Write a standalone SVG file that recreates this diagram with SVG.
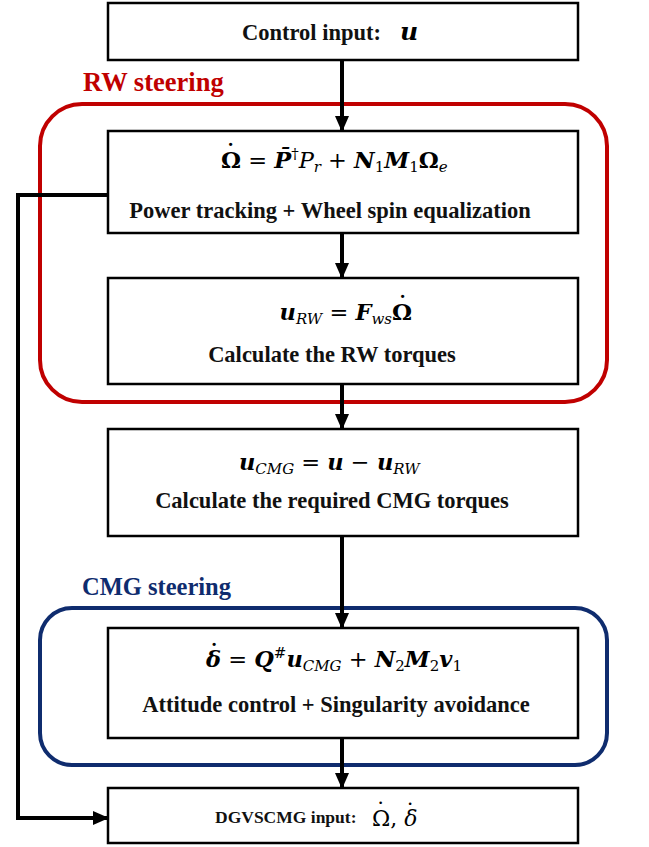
<svg xmlns="http://www.w3.org/2000/svg" width="649" height="847" viewBox="0 0 649 847">
<defs>
<marker id="ah" viewBox="0 0 8 7" refX="7.5" refY="3.5" markerWidth="4" markerHeight="3.5" markerUnits="strokeWidth" orient="auto">
<path d="M0,0 L8,3.5 L0,7 z" fill="#000"/>
</marker>
<style>
.box{fill:#fff;stroke:#000;stroke-width:2.5}
.lbl{font-family:"Liberation Serif","Times New Roman",serif;font-weight:bold;font-size:22.5px;fill:#111;text-anchor:middle}
.eq{font-family:"DejaVu Serif",serif;font-size:22.5px;fill:#000}
.dot{font-family:"DejaVu Serif",serif;font-size:22.5px;font-weight:bold;fill:#000;text-anchor:middle}
.bi{font-weight:bold;font-style:italic}
.b{font-weight:bold}
.i{font-style:italic}
.sub{font-size:15px}
.conn{fill:none;stroke:#000;stroke-width:4}
.grp{fill:none;stroke-width:4}
.gt{font-family:"Liberation Serif","Times New Roman",serif;font-weight:bold}
</style>
</defs>
<rect x="0" y="0" width="649" height="847" fill="#fff"/>

<g id="rw-group">
<rect class="grp" x="40" y="104" width="567" height="298" rx="42" stroke="#C00000"/>
<text class="gt" x="83" y="91" font-size="26.5" fill="#C00000">RW steering</text>
</g>
<g id="cmg-group">
<rect class="grp" x="40" y="608" width="567" height="157" rx="32" stroke="#0F2C6E"/>
<text class="gt" x="82" y="595" font-size="24.5" fill="#0F2C6E">CMG steering</text>
</g>

<g id="connectors">
<line class="conn" x1="342" y1="60" x2="342" y2="131" marker-end="url(#ah)"/>
<line class="conn" x1="342" y1="233" x2="342" y2="278" marker-end="url(#ah)"/>
<line class="conn" x1="342" y1="384" x2="342" y2="429" marker-end="url(#ah)"/>
<line class="conn" x1="342" y1="536" x2="342" y2="628" marker-end="url(#ah)"/>
<line class="conn" x1="342" y1="738" x2="342" y2="788" marker-end="url(#ah)"/>
<polyline class="conn" points="108,195 18,195 18,818 108,818" marker-end="url(#ah)"/>
</g>

<g id="n-control">
<rect class="box" x="108" y="3" width="470" height="57"/>
<text class="lbl" x="242" y="40" style="text-anchor:start">Control input:</text>
<text x="400" y="40" font-family="DejaVu Serif,serif" font-weight="bold" font-style="italic" font-size="25">u</text>
</g>

<g id="n-power">
<rect class="box" x="108" y="131" width="470" height="102"/>
<text class="eq" x="221" y="168"><tspan class="b">Ω</tspan> = <tspan class="bi">P̄</tspan><tspan class="sub" dy="-9">†</tspan><tspan class="i" dy="9">P</tspan><tspan class="sub i" dy="4">r</tspan><tspan dy="-4"> + </tspan><tspan class="bi">N</tspan><tspan class="sub" dy="4">1</tspan><tspan class="bi" dy="-4">M</tspan><tspan class="sub" dy="4">1</tspan><tspan class="b" dy="-4">Ω</tspan><tspan class="sub i" dy="4">e</tspan></text>
<text class="dot" x="230.5" y="161">˙</text>
<text class="lbl" x="330" y="218">Power tracking + Wheel spin equalization</text>
</g>

<g id="n-rwtorque">
<rect class="box" x="108" y="278" width="470" height="106"/>
<text class="eq" x="412" y="320" text-anchor="end"><tspan class="bi">u</tspan><tspan class="sub i" dy="4">RW</tspan><tspan dy="-4"> = </tspan><tspan class="bi">F</tspan><tspan class="sub i" dy="4">ws</tspan><tspan class="b" dy="-4">Ω</tspan></text>
<text class="dot" x="402.5" y="313">˙</text>
<text class="lbl" x="332" y="362">Calculate the RW torques</text>
</g>

<g id="n-cmgtorque">
<rect class="box" x="108" y="429" width="470" height="107"/>
<text class="eq" x="239" y="470"><tspan class="bi">u</tspan><tspan class="sub i" dy="4">CMG</tspan><tspan dy="-4"> = </tspan><tspan class="bi">u</tspan> − <tspan class="bi">u</tspan><tspan class="sub i" dy="4">RW</tspan></text>
<text class="lbl" x="332" y="508">Calculate the required CMG torques</text>
</g>

<g id="n-cmgsteer">
<rect class="box" x="108" y="628" width="470" height="110"/>
<text class="eq" x="206" y="667"><tspan class="bi">δ</tspan> = <tspan class="bi">Q</tspan><tspan class="sub" dy="-9">#</tspan><tspan class="bi" dy="9">u</tspan><tspan class="sub i" dy="4">CMG</tspan><tspan dy="-4"> + </tspan><tspan class="bi">N</tspan><tspan class="sub" dy="4">2</tspan><tspan class="bi" dy="-4">M</tspan><tspan class="sub" dy="4">2</tspan><tspan class="bi" dy="-4">v</tspan><tspan class="sub" dy="4">1</tspan></text>
<text class="dot" x="214" y="661">˙</text>
<text class="lbl" x="336" y="712">Attitude control + Singularity avoidance</text>
</g>

<g id="n-output">
<rect class="box" x="108" y="788" width="470" height="55"/>
<text x="215" y="823" font-family="Liberation Serif,serif" font-weight="bold" font-size="17.5" fill="#111">DGVSCMG input:</text>
<text x="372" y="826" font-family="DejaVu Serif,serif" font-size="22" fill="#000">Ω, <tspan font-style="italic">δ</tspan></text>
<text class="dot" x="380.5" y="819" font-weight="normal" style="font-weight:normal">˙</text>
<text class="dot" x="410" y="820" font-weight="normal" style="font-weight:normal">˙</text>
</g>
</svg>
